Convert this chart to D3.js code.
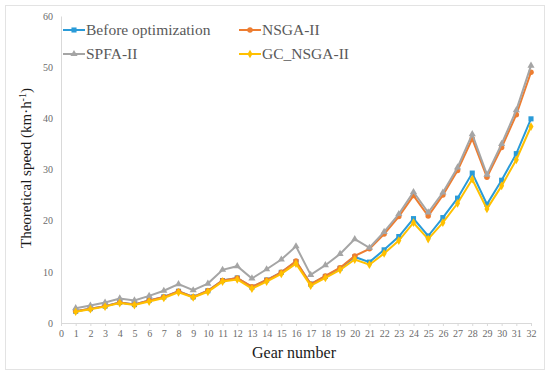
<!DOCTYPE html>
<html>
<head>
<meta charset="utf-8">
<script src="https://cdn.jsdelivr.net/npm/d3@7"></script>
<style>
  body { margin: 0; background: #fff; }
  svg text { font-family: "Liberation Serif", "Times New Roman", serif; }
</style>
</head>
<body>
<script>
const width = 550;
const height = 375;

// gear numbers and series values
const gears = d3.range(1, 33);
const before = [2.3,2.8,3.3,4.0,3.6,4.4,5.1,6.2,5.1,6.3,8.3,8.8,7.0,8.4,9.9,12.0,7.6,9.1,10.7,12.9,11.9,14.3,16.9,20.4,17.0,20.6,24.4,29.3,23.2,27.9,33.1,39.9];
const nsga = [2.3,2.8,3.3,4.0,3.6,4.4,5.1,6.2,5.1,6.3,8.3,8.8,7.1,8.4,9.9,12.1,7.6,9.2,10.8,13.1,14.5,17.4,20.8,24.9,20.9,25.0,29.8,36.0,28.5,34.3,40.7,49.0];
const spfa = [2.9,3.4,4.0,4.8,4.4,5.3,6.3,7.6,6.4,7.7,10.4,11.1,8.7,10.5,12.4,15.0,9.4,11.3,13.5,16.4,14.7,17.8,21.3,25.6,21.6,25.5,30.4,36.9,29.0,35.0,41.6,50.3];
const gcNsga = [2.2,2.7,3.2,3.9,3.5,4.2,4.9,6.0,5.0,6.1,8.1,8.5,6.7,8.1,9.6,11.6,7.3,8.8,10.4,12.4,11.4,13.6,16.1,19.6,16.4,19.6,23.4,28.1,22.3,26.8,31.9,38.4];

const xTicks = d3.range(0, 33);
const yTicks = [0, 10, 20, 30, 40, 50, 60];

const seriesNames = ["Before optimization", "NSGA-II", "SPFA-II", "GC_NSGA-II"];

const series = [
  { name: seriesNames[0], values: before, color: "#2a9bd8", symbol: d3.symbolSquare, size: 26 },
  { name: seriesNames[1], values: nsga, color: "#ed7d31", symbol: d3.symbolCircle, size: 24 },
  { name: seriesNames[2], values: spfa, color: "#a5a5a5", symbol: d3.symbolTriangle, size: 22 },
  { name: seriesNames[3], values: gcNsga, color: "#ffc000", symbol: d3.symbolDiamond, size: 22 }
];

const serif = "'Liberation Serif', 'Times New Roman', serif";

const svg = d3.select("body")
  .append("svg")
  .attr("width", width)
  .attr("height", height);

// outer frame
svg.append("rect")
  .attr("x", 5.5)
  .attr("y", 5.5)
  .attr("width", 539)
  .attr("height", 364)
  .attr("fill", "#fff")
  .attr("stroke", "#e3e3e3");

const scaleX = d3.scaleLinear()
  .domain([0, 32])
  .range([61, 531]);

const scaleY = d3.scaleLinear()
  .domain([0, 60])
  .range([323, 16]);

const yAxis = d3.axisLeft(scaleY)
  .tickValues(yTicks)
  .tickSize(0)
  .tickPadding(8);

const xAxis = d3.axisBottom(scaleX)
  .tickValues(xTicks)
  .tickSize(3)
  .tickPadding(4);

const gy = svg.append("g")
  .attr("transform", "translate(61,0)")
  .call(yAxis);

const gx = svg.append("g")
  .attr("transform", "translate(0,323)")
  .call(xAxis);

[gx, gy].forEach(g => {
  g.attr("font-family", serif).attr("font-size", 10);
  g.select(".domain").attr("stroke", "#d9d9d9");
  g.selectAll(".tick line").attr("stroke", "#d9d9d9");
  g.selectAll(".tick text")
    .attr("fill", "#6b6b6b")
    .attr("font-family", serif);
});

// axis titles
svg.append("text")
  .attr("transform", "translate(31,168) rotate(-90)")
  .attr("text-anchor", "middle")
  .attr("fill", "#1a1a1a")
  .attr("font-family", serif)
  .style("font-size", "15px")
  .html('Theoretical speed (km·h<tspan dy="-5" font-size="10px">-1</tspan><tspan dy="5">)</tspan>');

svg.append("text")
  .attr("x", 294)
  .attr("y", 358)
  .attr("text-anchor", "middle")
  .attr("fill", "#1a1a1a")
  .attr("font-family", serif)
  .style("font-size", "16px")
  .text("Gear number");

// lines and markers
const line = d3.line()
  .x((d, i) => scaleX(gears[i]))
  .y(d => scaleY(d));

series.forEach(s => {
  const g = svg.append("g");
  g.append("path")
    .datum(s.values)
    .attr("d", line)
    .attr("fill", "none")
    .attr("stroke", s.color)
    .attr("stroke-width", 2);
  g.selectAll("path.pt")
    .data(s.values)
    .enter()
    .append("path")
    .attr("class", "pt")
    .attr("d", d3.symbol().type(s.symbol).size(s.size))
    .attr("transform", (d, i) => `translate(${scaleX(gears[i])},${scaleY(d)})`)
    .attr("fill", s.color);
});

// legend
const legendPos = [[63, 30], [239, 30], [63, 54], [239, 54]];
series.forEach((s, i) => {
  const [lx, ly] = legendPos[i];
  const g = svg.append("g").attr("transform", `translate(${lx},${ly})`);
  g.append("line")
    .attr("x1", 0).attr("x2", 22)
    .attr("y1", 0).attr("y2", 0)
    .attr("stroke", s.color)
    .attr("stroke-width", 2);
  g.append("path")
    .attr("d", d3.symbol().type(s.symbol).size(s.size))
    .attr("transform", "translate(11,0)")
    .attr("fill", s.color);
  g.append("text")
    .attr("x", 23)
    .attr("y", 5)
    .attr("fill", "#595959")
    .attr("font-family", serif)
    .style("font-size", "15.5px")
    .text(s.name);
});
</script>
</body>
</html>
